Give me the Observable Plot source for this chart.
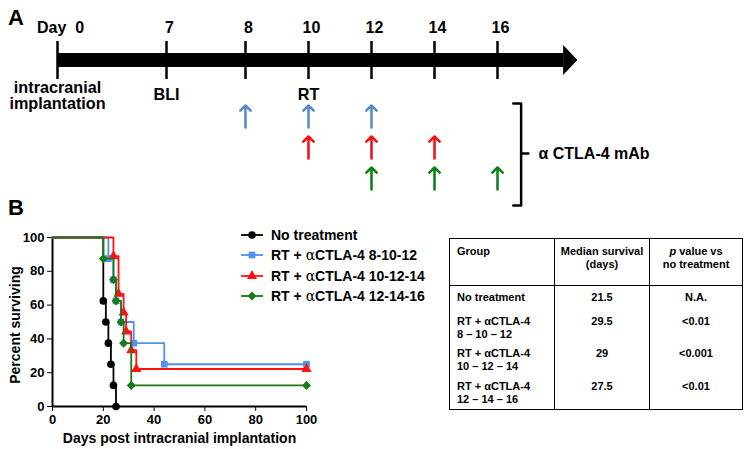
<!DOCTYPE html>
<html><head><meta charset="utf-8">
<script src="https://cdn.jsdelivr.net/npm/d3@7"></script>
<script src="https://cdn.jsdelivr.net/npm/@observablehq/plot@0.6"></script>
<style>
body{margin:0;background:#fff;}
#fig{position:relative;width:746px;height:449px;overflow:hidden;font-family:"Liberation Sans",Arial,sans-serif;background:#fff;color:#000;}
.abs{position:absolute;}
.panel{font-weight:bold;font-size:22px;line-height:1;}
#legend{left:240px;top:225px;font-weight:bold;font-size:14px;}
#legend .row{height:20.3px;display:flex;align-items:center;white-space:nowrap;}
#legend svg{margin-right:7px;}
.greek{font-family:"DejaVu Serif","Liberation Serif",serif;font-weight:normal;}
table.res{position:absolute;left:449px;top:238px;border-collapse:collapse;border:1.5px solid #000;font-size:11px;font-weight:bold;line-height:13px;table-layout:fixed;}
table.res td{vertical-align:top;padding:0;border-left:1px solid #000;border-right:1px solid #000;}
table.res tr.head td{border-bottom:1px solid #000;height:47px;padding-top:4px;box-sizing:border-box;}
table.res td.c{text-align:center;}
table.res td.l{padding-left:7px;}
table.res tr.body td{padding-top:3px;box-sizing:border-box;}
g[aria-label^="x-axis"] line, g[aria-label^="y-axis"] line{stroke-width:2px;}
</style>
</head><body>
<div id="fig">
  <div class="abs panel" style="left:8px;top:7px;">A</div>
  <div class="abs panel" style="left:8px;top:197px;">B</div>
  <div id="tl" class="abs" style="left:0;top:0;"></div>
  <div id="km" class="abs" style="left:0;top:210px;"></div>
  <div id="legend" class="abs"></div>
  <div id="tbl"></div>
</div>
<script>
// ---------- Panel A data ----------
const tickDays = [0, 7, 8, 10, 12, 14, 16];
const tickLabels = ["Day\u00a0\u00a00", "7", "8", "10", "12", "14", "16"];
const eventDays = [0, 7, 10];
const eventLabels = ["intracranial\nimplantation", "BLI", "RT"];
const antibodySchedules = ["8-10-12", "10-12-14", "12-14-16"];
const antibodyDays = [[8, 10, 12], [10, 12, 14], [12, 14, 16]];
const antibodyLabel = "\u03b1 CTLA-4 mAb";
const arrowColors = ["#5a8bc5", "#f01414", "#14801c"];

// ---------- Panel B data ----------
const kmGroups = ["No treatment", "RT + \u03b1CTLA-4 8-10-12", "RT + \u03b1CTLA-4 10-12-14", "RT + \u03b1CTLA-4 12-14-16"];
const kmDays = [
  [0, 20, 21, 22, 23, 24, 25],
  [0, 22, 24, 25, 27, 32, 44, 100],
  [0, 24, 26, 28, 29, 31, 33, 100],
  [0, 20, 24, 25, 27, 28, 31, 100]
];
const kmSurvival = [
  [100, 62.5, 50, 37.5, 25, 12.5, 0],
  [100, 87.5, 75, 62.5, 50, 37.5, 25, 25],
  [100, 88.9, 66.7, 55.6, 44.4, 33.3, 22.2, 22.2],
  [100, 87.5, 75, 62.5, 50, 37.5, 12.5, 12.5]
];
const kmColors = ["#000000", "#4d94f0", "#ff1212", "#1a7a1a"];
const kmSymbols = ["circle", "square", "triangle", "square"];
const kmRotate = [0, 0, 0, 45];
const xTicks = [0, 20, 40, 60, 80, 100];
const yTicks = [0, 20, 40, 60, 80, 100];
const xTitle = "Days post intracranial implantation";
const yTitle = "Percent surviving";

// ---------- Table data ----------
const tableHeader = ["Group", "Median survival<br>(days)", "<i>p</i> value vs<br>no treatment"];
const tableGroups = ["No treatment", "RT + \u03b1CTLA-4<br>8 \u2013 10 \u2013 12", "RT + \u03b1CTLA-4<br>10 \u2013 12 \u2013 14", "RT + \u03b1CTLA-4<br>12 \u2013 14 \u2013 16"];
const tableMedian = ["21.5", "29.5", "29", "27.5"];
const tablePValue = ["N.A.", "<0.01", "<0.001", "<0.01"];

const FONT = "Liberation Sans, Arial, sans-serif";

// ---------- Panel A: timeline ----------
const barEnd = 18.1, tipDay = 18.55;
const rowY = [116, 147, 178];
const arrowData = antibodyDays.flatMap((days, g) => days.map(day => ({day, g})));
const headPts = [{x: barEnd, y1: 45, y2: 75}, {x: tipDay, y1: 60, y2: 60}];
const bracket = [{x: 16.5, y: 103}, {x: 16.75, y: 103}, {x: 16.75, y: 205}, {x: 16.5, y: 205}];
const bracketMid = [{x: 16.75, y: 153}, {x: 16.98, y: 153}];

const tl = Plot.plot({
  width: 746, height: 210, margin: 0,
  x: {type: "linear", domain: [0, 7, 8, 16], range: [57, 166, 245, 497], axis: null},
  y: {type: "linear", domain: [0, 210], range: [0, 210], axis: null},
  style: {fontFamily: FONT, background: "transparent", overflow: "visible"},
  marks: [
    Plot.rect([0], {x1: 0, x2: barEnd, y1: 53, y2: 67, fill: "black"}),
    Plot.areaY(headPts, {x: "x", y1: "y1", y2: "y2", fill: "black"}),
    Plot.ruleX(tickDays, {x: d => d, y1: 41, y2: 79, stroke: "black", strokeWidth: 2.5}),
    Plot.text(tickDays, {x: d => d, y: 27, dx: 3, text: (d, i) => tickLabels[i], fontSize: 16, fontWeight: "bold", fill: "black"}),
    Plot.text(eventDays, {x: d => d, y: (d, i) => i === 0 ? 81 : 88, text: (d, i) => eventLabels[i], lineAnchor: "top", lineHeight: 1.0, fontSize: 16.2, fontWeight: "bold", fill: "black"}),
    Plot.arrow(arrowData, {x1: "day", x2: "day", y1: d => rowY[d.g] + 11, y2: d => rowY[d.g] - 11, stroke: d => arrowColors[d.g], strokeWidth: 2.6, headLength: 4.8, headAngle: 90}),
    Plot.line(bracket, {x: "x", y: "y", stroke: "black", strokeWidth: 2.5}),
    Plot.line(bracketMid, {x: "x", y: "y", stroke: "black", strokeWidth: 2.5}),
    Plot.text([antibodyLabel], {x: 17.3, y: 153, text: d => d, textAnchor: "start", fontSize: 16, fontWeight: "bold", fill: "black"})
  ]
});
document.getElementById("tl").append(tl);

// ---------- Panel B: Kaplan-Meier ----------
const series = kmGroups.map((g, i) => kmDays[i].map((day, j) => ({day, surv: kmSurvival[i][j], g: i})));
const order = [0, 1, 2, 3];
const km = Plot.plot({
  width: 330, height: 239,
  marginLeft: 52, marginRight: 24, marginTop: 27, marginBottom: 43,
  style: {fontFamily: FONT, fontSize: "13px", fontWeight: "bold", color: "black", background: "transparent", overflow: "visible"},
  x: {domain: [0, 100], ticks: xTicks, tickSize: 5, tickPadding: 3, label: null},
  y: {domain: [0, 100], ticks: yTicks, tickSize: 5, tickPadding: 3, label: null},
  marks: [
    Plot.ruleX([0], {stroke: "black", strokeWidth: 2}),
    Plot.ruleY([0], {stroke: "black", strokeWidth: 2}),
    ...order.flatMap(i => [
      Plot.line(series[i], {x: "day", y: "surv", curve: "step-after", stroke: kmColors[i], strokeWidth: 1.8}),
      Plot.dot(series[i].slice(1), {x: "day", y: "surv", symbol: kmSymbols[i], rotate: kmRotate[i], fill: kmColors[i], stroke: "none", r: i === 3 ? 3.6 : 3.8})
    ]),
    Plot.text([xTitle], {frameAnchor: "bottom", dy: 32, text: d => d, lineAnchor: "middle", textAnchor: "middle", fontSize: 14, fontWeight: "bold", fill: "black"}),
    Plot.text([yTitle], {frameAnchor: "left", dx: -37, dy: 3, rotate: -90, text: d => d, lineAnchor: "middle", textAnchor: "middle", fontSize: 14, fontWeight: "bold", fill: "black"})
  ]
});
document.getElementById("km").append(km);

// ---------- Legend ----------
const legend = d3.select("#legend");
kmGroups.forEach((g, i) => {
  const row = legend.append("div").attr("class", "row");
  const svg = row.append("svg").attr("width", 24).attr("height", 14);
  svg.append("line").attr("x1", 1).attr("x2", 23).attr("y1", 7).attr("y2", 7).attr("stroke", kmColors[i]).attr("stroke-width", 1.8);
  const symType = {circle: d3.symbolCircle, square: d3.symbolSquare, triangle: d3.symbolTriangle}[kmSymbols[i]];
  svg.append("path").attr("d", d3.symbol(symType, i === 3 ? 40 : 45)()).attr("transform", `translate(12,7) rotate(${kmRotate[i]})`).attr("fill", kmColors[i]);
  const parts = g.split("\u03b1");
  const span = row.append("span");
  span.append("span").text(parts[0]);
  if (parts.length > 1) {
    span.append("span").attr("class", "greek").text("\u03b1");
    span.append("span").text(parts[1]);
  }
});

// ---------- Table ----------
const rowHeights = [26, 32, 33, 33];
let html = '<table class="res"><colgroup><col style="width:105px"><col style="width:95px"><col style="width:93px"></colgroup>';
html += '<tr class="head"><td class="l" style="padding-top:6px">' + tableHeader[0] + '</td><td class="c" style="padding-top:6px">' + tableHeader[1] + '</td><td class="c" style="padding-top:6px">' + tableHeader[2] + '</td></tr>';
tableGroups.forEach((g, i) => {
  html += `<tr class="body" style="height:${rowHeights[i]}px"><td class="l" style="padding-top:${i === 0 ? 5 : 3}px">${g}</td><td class="c" style="padding-top:${i === 0 ? 5 : 3}px">${tableMedian[i]}</td><td class="c" style="padding-top:${i === 0 ? 5 : 3}px">${tablePValue[i].replace("<", "&lt;")}</td></tr>`;
});
html += '</table>';
document.getElementById("tbl").innerHTML = html;
</script>
</body></html>
